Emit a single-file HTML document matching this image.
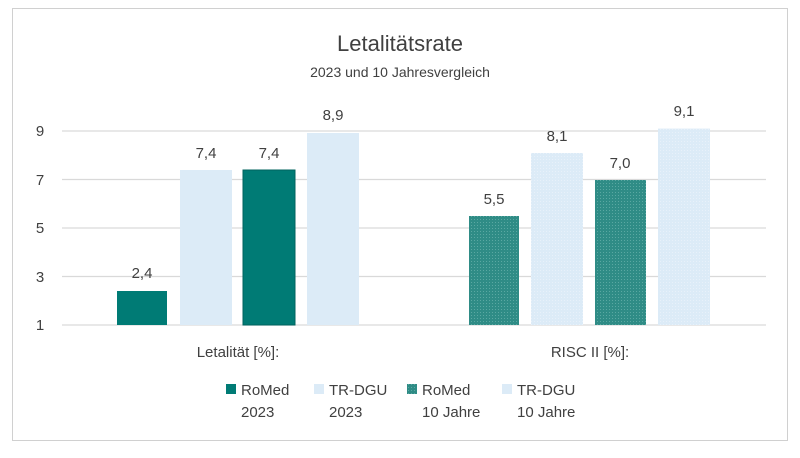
<!DOCTYPE html>
<html><head><meta charset="utf-8"><style>
body{margin:0;background:#fff;font-family:"Liberation Sans",sans-serif;}
svg text{font-family:"Liberation Sans",sans-serif;fill:#404040;}
</style></head><body>
<svg width="800" height="453" xmlns="http://www.w3.org/2000/svg">
<defs><pattern id="p" width="3" height="3" patternUnits="userSpaceOnUse"><rect width="3" height="3" fill="#2f8c86"/><rect width="1" height="1" fill="#5aa8a2"/></pattern>
<pattern id="q" width="3" height="3" patternUnits="userSpaceOnUse"><rect width="3" height="3" fill="#dcebf7"/><rect width="1" height="1" fill="#e8f1fa"/></pattern></defs>
<rect x="12.5" y="8.5" width="775" height="432" fill="#fff" stroke="#d0d0d0"/>
<text x="400" y="51" font-size="22" text-anchor="middle">Letalitätsrate</text>
<text x="400" y="77" font-size="14" text-anchor="middle">2023 und 10 Jahresvergleich</text>
<g stroke="#d9d9d9" stroke-width="1.3">
<line x1="62" x2="766" y1="131" y2="131"/><line x1="62" x2="766" y1="179.5" y2="179.5"/><line x1="62" x2="766" y1="228" y2="228"/><line x1="62" x2="766" y1="276.5" y2="276.5"/><line x1="62" x2="766" y1="325" y2="325"/></g>
<g font-size="15" text-anchor="middle"><text x="40" y="136">9</text><text x="40" y="185">7</text><text x="40" y="233">5</text><text x="40" y="282">3</text><text x="40" y="330">1</text></g>
<rect x="117" y="291" width="50" height="34" fill="#007b75"/>
<rect x="180" y="170" width="52" height="155" fill="#dcebf7"/>
<rect x="243" y="170" width="52" height="155" fill="#007b75" stroke="#00635e"/>
<rect x="307" y="133" width="52" height="192" fill="#dcebf7"/>
<rect x="469" y="216" width="50" height="109" fill="url(#p)"/>
<rect x="531" y="153" width="52" height="172" fill="url(#q)"/>
<rect x="595" y="180" width="51" height="145" fill="url(#p)"/>
<rect x="658" y="128.6" width="52" height="196.4" fill="url(#q)"/>
<g font-size="15" text-anchor="middle">
<text x="142" y="278">2,4</text><text x="206" y="158">7,4</text><text x="269" y="158">7,4</text><text x="333" y="120">8,9</text>
<text x="494" y="204">5,5</text><text x="557" y="141">8,1</text><text x="620" y="168">7,0</text><text x="684" y="116">9,1</text>
<text x="238" y="357">Letalität [%]:</text><text x="590" y="357">RISC II [%]:</text>
</g>
<g font-size="15">
<rect x="226" y="384" width="10" height="10" fill="#007b75"/><text x="241" y="395">RoMed</text><text x="241" y="417">2023</text>
<rect x="314" y="384" width="10" height="10" fill="#dcebf7"/><text x="329" y="395">TR-DGU</text><text x="329" y="417">2023</text>
<rect x="407" y="384" width="10" height="10" fill="url(#p)"/><text x="422" y="395">RoMed</text><text x="422" y="417">10 Jahre</text>
<rect x="502" y="384" width="10" height="10" fill="#dcebf7"/><text x="517" y="395">TR-DGU</text><text x="517" y="417">10 Jahre</text>
</g>
</svg>
</body></html>
